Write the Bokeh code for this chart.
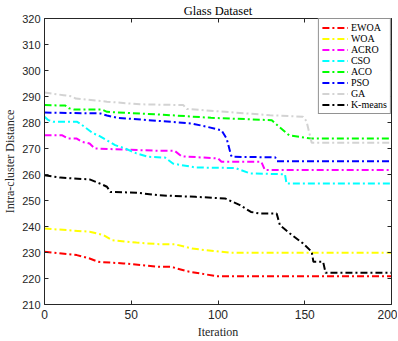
from bokeh.plotting import figure
from bokeh.models import (Range1d, LinearAxis, FixedTicker, CustomJSTickFormatter,
                          Legend, LegendItem, Title)
from bokeh.embed import file_html
from bokeh.resources import INLINE

# ---- data ----
ewoa_iter = [0, 18.6, 26, 31, 45.5, 66, 73, 82, 99, 200]
ewoa_val = [230.3, 229.0, 227.7, 226.4, 225.8, 224.5, 224.5, 222.8, 220.9, 220.9]

woa_iter = [0, 26, 34, 39, 53, 66, 75, 85, 107, 200]
woa_val = [239.2, 238.0, 236.7, 234.7, 233.8, 233.2, 233.2, 231.5, 229.9, 229.9]

acro_iter = [0, 10, 13.6, 18.6, 21.5, 26, 29, 66, 75, 79, 100, 102, 125, 127, 200]
acro_val = [275.1, 275.1, 273.8, 273.8, 272.6, 271.9, 270.0, 269.1, 269.1, 267.0,
            266.2, 264.9, 264.9, 261.7, 261.7]

cso_iter = [0, 2.3, 5, 18.6, 20.5, 28, 31, 40.7, 46.5, 53, 60, 69.5, 74, 87, 110,
            118.5, 138.6, 139.5, 200]
cso_val = [282.2, 280.9, 280.3, 280.3, 279.6, 275.8, 275.1, 271.3, 270.0, 268.1,
           266.8, 266.5, 264.2, 262.7, 262.5, 260.4, 260.1, 256.5, 256.5]

aco_iter = [0, 12, 14, 17, 33, 36, 66, 96, 131, 135, 141, 154, 200]
aco_val = [286.7, 286.5, 285.5, 285.0, 285.0, 284.1, 283.1, 281.8, 280.9, 278.5,
           275.1, 273.8, 273.8]

pso_iter = [0, 32, 36, 42, 66, 85, 94, 102, 105, 107.5, 108, 133, 134, 200]
pso_val = [283.8, 283.5, 282.7, 281.8, 280.6, 279.6, 278.3, 277.0, 273.8, 267.4,
           266.8, 266.6, 265.1, 265.1]

ga_iter = [0, 11, 16, 18, 36, 55, 80, 82, 100, 130, 149, 151, 154, 200]
ga_val = [291.5, 290.5, 290.0, 289.2, 288.0, 287.0, 286.7, 285.2, 284.3, 282.8,
          282.2, 280.5, 272.2, 272.2]

kmeans_iter = [0, 9, 26, 32, 36, 38, 53, 66, 87, 104, 112.7, 119, 124, 133.8, 135.7,
               141.5, 149, 154, 155, 160.6, 162, 200]
kmeans_val = [259.7, 258.8, 258.1, 256.5, 255.3, 253.3, 253.0, 252.0, 251.4, 250.8,
              248.2, 245.6, 245.0, 245.0, 240.5, 237.3, 233.5, 230.3, 226.4, 226.4,
              222.2, 222.2]

series_names = ["EWOA", "WOA", "ACRO", "CSO", "ACO", "PSO", "GA", "K-means"]
series_iters = [ewoa_iter, woa_iter, acro_iter, cso_iter, aco_iter, pso_iter, ga_iter, kmeans_iter]
series_vals = [ewoa_val, woa_val, acro_val, cso_val, aco_val, pso_val, ga_val, kmeans_val]
series_colors = ["#ff0000", "#ffff00", "#ff00ff", "#00ffff", "#00ff00", "#0000ff",
                 "#d3d3d3", "#000000"]

x_ticks = [0, 50, 100, 150, 200]
y_ticks = list(range(210, 321, 10))

AX = "#262626"
SERIF = "Liberation Serif"
SANS = "Liberation Sans"

p = figure(frame_width=347, frame_height=286, output_backend="svg", toolbar_location=None,
           x_range=Range1d(0, 200), y_range=Range1d(210, 320),
           min_border_left=36, min_border_right=6, min_border_top=17,
           min_border_bottom=30)
p.title = Title(text="Glass Dataset", align="center", text_font=SERIF,
                text_font_size="12.5px", text_font_style="normal", text_color="#000000",
                standoff=2, offset=0)
p.grid.visible = False
p.outline_line_color = None
p.background_fill_color = "white"

for ax in (p.xaxis[0], p.yaxis[0]):
    ax.major_tick_in = 4
    ax.major_tick_out = 0
    ax.minor_tick_line_color = None
    ax.axis_line_color = AX
    ax.major_tick_line_color = AX
    ax.major_label_text_font = SANS
    ax.major_label_text_font_size = "11px"
    ax.major_label_text_color = AX
    ax.axis_label_text_font = SERIF
    ax.axis_label_text_font_size = "12px"
    ax.axis_label_text_font_style = "normal"
    ax.axis_label_text_color = AX

p.xaxis[0].major_label_text_font_size = "12px"
p.xaxis[0].ticker = FixedTicker(ticks=x_ticks)
p.yaxis[0].ticker = FixedTicker(ticks=y_ticks)
p.xaxis[0].axis_label = "Iteration"
p.yaxis[0].axis_label = "Intra-cluster Distance"
p.xaxis[0].major_label_standoff = 5
p.xaxis[0].axis_label_standoff = 3
p.yaxis[0].major_label_standoff = 4
p.yaxis[0].axis_label_standoff = 2

blank = CustomJSTickFormatter(code="return ''")
top = LinearAxis(ticker=FixedTicker(ticks=x_ticks), formatter=blank)
right = LinearAxis(ticker=FixedTicker(ticks=y_ticks), formatter=blank)
for ax in (top, right):
    ax.major_tick_in = 4
    ax.major_tick_out = 0
    ax.minor_tick_line_color = None
    ax.axis_line_color = AX
    ax.major_tick_line_color = AX
    ax.major_label_standoff = 0
    ax.major_label_text_font_size = "1px"
p.add_layout(top, "above")
p.add_layout(right, "right")

items = []
for name, xs, ys, c in zip(series_names, series_iters, series_vals, series_colors):
    r = p.line(xs, ys, line_color=c, line_width=2, line_dash="7 3 2 3")
    items.append(LegendItem(label=name, renderers=[r]))

legend = Legend(items=items, location="top_right", margin=0, padding=3, spacing=0,
                glyph_width=26, glyph_height=11, label_height=11, label_standoff=3,
                label_text_font=SERIF, label_text_font_size="10px",
                label_text_color="#000000", border_line_color=AX, border_line_width=1,
                background_fill_alpha=1.0)
p.add_layout(legend, "center")

open("out.html", "w").write(file_html(p, INLINE))
